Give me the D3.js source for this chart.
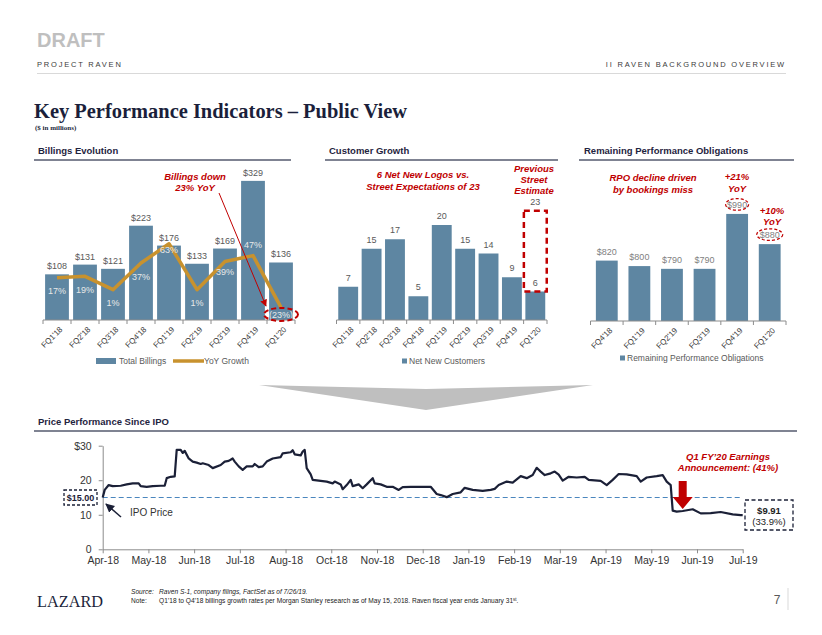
<!DOCTYPE html>
<html><head><meta charset="utf-8">
<script src="https://cdn.jsdelivr.net/npm/d3@7"></script>
<style>
body{margin:0;background:#fff}
svg{display:block}
text{font-family:"Liberation Sans",Arial,sans-serif}
.serif{font-family:"Liberation Serif","Times New Roman",serif}
</style>
</head><body>
<svg id="c" width="822" height="635"></svg>
<script>
// ---------- DATA ----------
const billingQuarters = ["FQ1'18","FQ2'18","FQ3'18","FQ4'18","FQ1'19","FQ2'19","FQ3'19","FQ4'19","FQ1'20"];
const billings = [108,131,121,223,176,133,169,329,136];
const billingsYoY = [17,19,1,37,63,1,39,47,-23];

const customerQuarters = ["FQ1'18","FQ2'18","FQ3'18","FQ4'18","FQ1'19","FQ2'19","FQ3'19","FQ4'19","FQ1'20"];
const netNewCustomers = [7,15,17,5,20,15,14,9,6];
const streetEstimate = 23;

const rpoQuarters = ["FQ4'18","FQ1'19","FQ2'19","FQ3'19","FQ4'19","FQ1'20"];
const rpo = [820,800,790,790,990,880];

const priceTickLabels = ["Apr-18","May-18","Jun-18","Jul-18","Aug-18","Oct-18","Nov-18","Dec-18","Jan-19","Feb-19","Mar-19","Apr-19","May-19","Jun-19","Jul-19"];
const priceYTicks = [0,10,20,30];
// trading-day index since IPO and closing price
const priceDay = [0,1,3,5,9,12,15,18,19,22,25,29,31,32,34,36,37,39,40,41,43,45,47,49,50,53,55,59,61,63,65,66,68,70,72,75,76,78,80,82,85,89,90,94,95,96,99,100,101,102,104,105,109,112,115,116,119,120,122,124,125,128,130,132,135,136,139,142,145,148,150,154,159,164,167,169,172,175,179,181,185,190,194,196,198,202,205,209,212,215,217,219,221,224,226,228,230,233,237,241,243,249,252,255,258,262,267,269,272,277,280,282,284,285,287,290,295,299,304,309,315,319,320];
const price = [15.0,17.2,18.6,18.3,18.4,18.8,19.1,19.1,18.3,18.1,18.3,18.4,18.4,20.6,21.0,21.1,28.8,28.8,27.9,28.5,26.3,25.4,25.1,24.7,24.9,24.4,23.5,24.4,25.4,25.6,26.3,25.4,24.0,23.0,24.0,24.0,24.7,23.8,24.0,25.4,26.3,26.7,27.8,28.1,28.7,27.5,27.2,28.3,28.8,23.5,21.7,20.1,19.8,19.6,19.1,19.6,18.8,17.4,18.6,20.1,18.3,18.8,17.7,18.8,20.6,19.1,18.8,18.1,18.1,17.2,18.0,18.1,18.1,18.1,16.0,15.7,15.1,16.0,16.5,17.8,17.2,16.9,17.2,17.5,18.6,19.6,19.3,21.2,20.6,21.5,23.6,22.5,21.5,22.0,22.5,21.6,19.9,21.0,20.8,21.0,20.1,19.8,18.6,20.1,21.8,21.7,21.2,19.6,20.8,21.2,21.5,19.6,18.6,11.2,10.9,11.1,11.6,10.4,10.5,10.8,10.1,9.9,9.91];
const ipoPrice = 15;
const lastPriceLabel = "$9.91";
const lastChangeLabel = "(33.9%)";
const earningsDay = 290;

// ---------- STYLE ----------
const BAR = "#5E86A2", GOLD = "#C8922E", RED = "#C00000", NAVY = "#1B2037", AX = "#8C8C8C", LBL = "#595959";
const svg = d3.select("#c");

const defs = svg.append("defs");
defs.append("marker").attr("id","arrRed").attr("viewBox","0 0 10 10").attr("refX",9).attr("refY",5)
  .attr("markerWidth",7).attr("markerHeight",7).attr("orient","auto")
  .append("path").attr("d","M0,0L10,5L0,10z").attr("fill",RED);
defs.append("marker").attr("id","arrNavy").attr("viewBox","0 0 10 10").attr("refX",9).attr("refY",5)
  .attr("markerWidth",6).attr("markerHeight",6).attr("orient","auto")
  .append("path").attr("d","M0,0L10,5L0,10z").attr("fill",NAVY);

// ---------- HEADER ----------
svg.append("text").attr("x",37).attr("y",47).attr("font-size",20).attr("font-weight","bold").attr("fill","#BFBFBF").text("DRAFT");
svg.append("text").attr("x",37).attr("y",67).attr("font-size",7.5).attr("letter-spacing",1.8).attr("fill","#3a3a3a").text("PROJECT RAVEN");
svg.append("text").attr("x",786).attr("y",67).attr("font-size",7.5).attr("letter-spacing",1.8).attr("text-anchor","end").attr("fill","#3a3a3a").text("II    RAVEN BACKGROUND OVERVIEW");
svg.append("line").attr("x1",37).attr("x2",786).attr("y1",73.5).attr("y2",73.5).attr("stroke","#D9D9D9").attr("stroke-width",1);
svg.append("text").attr("class","serif").attr("x",34).attr("y",118).attr("font-size",22).attr("font-weight","bold").attr("fill","#1B1F3B")
  .attr("textLength",373).attr("lengthAdjust","spacingAndGlyphs").text("Key Performance Indicators – Public View");
svg.append("text").attr("class","serif").attr("x",35).attr("y",130).attr("font-size",7).attr("font-weight","bold").attr("fill","#1B1F3B").text("($ in millions)");

function sectionHeader(x, x1, x2, y, label){
  svg.append("text").attr("x",x).attr("y",y).attr("font-size",9.5).attr("font-weight","bold").attr("fill","#1F2440").text(label);
  svg.append("line").attr("x1",x1).attr("x2",x2).attr("y1",y+6).attr("y2",y+6).attr("stroke","#555a6e").attr("stroke-width",1.5);
}
sectionHeader(38,34,291,154,"Billings Evolution");
sectionHeader(329,325,558,154,"Customer Growth");
sectionHeader(584,579,794,154,"Remaining Performance Obligations");
sectionHeader(38,34,797,425,"Price Performance Since IPO");

function redNote(x, y, lines, lh){
  const t = svg.append("text").attr("x",x).attr("y",y).attr("text-anchor","middle").attr("font-size",9.5)
    .attr("font-weight","bold").attr("font-style","italic").attr("fill",RED);
  lines.forEach((l,i)=> t.append("tspan").attr("x",x).attr("dy", i===0?0:lh).text(l));
}

function bandAxis(x, baseline, tickLen){
  const g = svg.append("g").attr("transform",`translate(0,${baseline})`);
  const r = x.range();
  const n = x.domain().length;
  g.append("line").attr("x1",r[0]).attr("x2",r[1]).attr("stroke",AX).attr("stroke-width",1);
  for(let i=0;i<=n;i++){
    const xx = r[0] + (r[1]-r[0])*i/n;
    g.append("line").attr("x1",xx).attr("x2",xx).attr("y1",0).attr("y2",tickLen).attr("stroke",AX);
  }
  const ax = g.append("g").call(d3.axisBottom(x).tickSize(0).tickPadding(0));
  ax.select(".domain").remove();
  ax.selectAll("text").attr("font-size",8).attr("fill","#404040").attr("text-anchor","end")
    .attr("y",0).attr("dy","0.35em").attr("transform","translate(4,8) rotate(-45)")
    .style("font-family","'Liberation Sans',Arial,sans-serif");
}

// ---------- BILLINGS ----------
{
  const base = 320;
  const x = d3.scaleBand().domain(billingQuarters).range([43,295]).paddingInner(0.15).paddingOuter(0.075);
  const y = d3.scaleLinear().domain([0,350]).range([base,172]);
  const y2 = d3.scaleLinear().domain([-40,160]).range([base,172]);
  svg.append("g").selectAll("rect").data(billings).join("rect")
    .attr("x",(d,i)=>x(billingQuarters[i])).attr("width",x.bandwidth())
    .attr("y",d=>y(d)).attr("height",d=>base-y(d)).attr("fill",BAR);
  svg.append("g").selectAll("text").data(billings).join("text")
    .attr("x",(d,i)=>x(billingQuarters[i])+x.bandwidth()/2).attr("y",d=>y(d)-5)
    .attr("text-anchor","middle").attr("font-size",9).attr("fill",LBL).text(d=>"$"+d);
  bandAxis(x, base, 4);
  const line = d3.line().x((d,i)=>x(billingQuarters[i])+x.bandwidth()/2).y(d=>y2(d));
  svg.append("path").datum(billingsYoY).attr("d",line).attr("fill","none").attr("stroke",GOLD)
    .attr("stroke-width",3.5).attr("stroke-linejoin","round");
  const dys = [13,13,13,14,6,13,10,-11,7];
  svg.append("g").selectAll("text").data(billingsYoY).join("text")
    .attr("x",(d,i)=>x(billingQuarters[i])+x.bandwidth()/2).attr("y",(d,i)=>y2(d)+dys[i]+3.2)
    .attr("text-anchor","middle").attr("font-size",9).attr("fill","#E8E8E8")
    .text(d=> d<0 ? "("+(-d)+"%)" : d+"%");
  const li = billingsYoY.length-1;
  svg.append("ellipse").attr("cx",x(billingQuarters[li])+x.bandwidth()/2).attr("cy",y2(billingsYoY[li])+7)
    .attr("rx",17).attr("ry",6.5).attr("fill","none").attr("stroke",RED).attr("stroke-width",2).attr("stroke-dasharray","5,3");
  redNote(195,180,["Billings down","23% YoY"],11);
  svg.append("line").attr("x1",219).attr("y1",193).attr("x2",266).attr("y2",306)
    .attr("stroke",RED).attr("stroke-width",1).attr("marker-end","url(#arrRed)");
  // legend
  svg.append("rect").attr("x",96).attr("y",358).attr("width",20).attr("height",6).attr("fill",BAR);
  svg.append("text").attr("x",119).attr("y",364).attr("font-size",8.5).attr("fill",LBL).text("Total Billings");
  svg.append("line").attr("x1",173).attr("x2",204).attr("y1",361).attr("y2",361).attr("stroke",GOLD).attr("stroke-width",3.5);
  svg.append("text").attr("x",204).attr("y",364).attr("font-size",8.5).attr("fill",LBL).text("YoY Growth");
}

// ---------- CUSTOMERS ----------
{
  const base = 320;
  const x = d3.scaleBand().domain(customerQuarters).range([336.5,547]).paddingInner(0.15).paddingOuter(0.075);
  const y = d3.scaleLinear().domain([0,30]).range([base,177.5]);
  svg.append("g").selectAll("rect").data(netNewCustomers).join("rect")
    .attr("x",(d,i)=>x(customerQuarters[i])).attr("width",x.bandwidth())
    .attr("y",d=>y(d)).attr("height",d=>base-y(d)).attr("fill",BAR);
  svg.append("g").selectAll("text").data(netNewCustomers).join("text")
    .attr("x",(d,i)=>x(customerQuarters[i])+x.bandwidth()/2).attr("y",d=>y(d)-6)
    .attr("text-anchor","middle").attr("font-size",9).attr("fill",LBL).text(d=>d);
  bandAxis(x, base, 4);
  const li = customerQuarters.length-1;
  const bx = x(customerQuarters[li]);
  svg.append("rect").attr("x",bx-1.5).attr("width",x.bandwidth()+3)
    .attr("y",y(streetEstimate)).attr("height",y(netNewCustomers[li])-y(streetEstimate))
    .attr("fill","none").attr("stroke",RED).attr("stroke-width",2.5).attr("stroke-dasharray","6,4");
  svg.append("text").attr("x",bx+x.bandwidth()/2).attr("y",y(streetEstimate)-6).attr("text-anchor","middle")
    .attr("font-size",9).attr("fill",LBL).text(streetEstimate);
  redNote(423,178,["6 Net New Logos vs.","Street Expectations of 23"],11.5);
  redNote(534,172,["Previous","Street","Estimate"],11);
  svg.append("rect").attr("x",402).attr("y",358.5).attr("width",5).attr("height",5).attr("fill",BAR);
  svg.append("text").attr("x",409).attr("y",364).attr("font-size",8.5).attr("fill",LBL).text("Net New Customers");
}

// ---------- RPO ----------
{
  const base = 321;
  const x = d3.scaleBand().domain(rpoQuarters).range([590.5,786]).paddingInner(0.33).paddingOuter(0.165);
  const y = d3.scaleLinear().domain([600,1150]).range([base,170]);
  svg.append("g").selectAll("rect").data(rpo).join("rect")
    .attr("x",(d,i)=>x(rpoQuarters[i])).attr("width",x.bandwidth())
    .attr("y",d=>y(d)).attr("height",d=>base-y(d)).attr("fill",BAR);
  svg.append("g").selectAll("text").data(rpo).join("text")
    .attr("x",(d,i)=>x(rpoQuarters[i])+x.bandwidth()/2).attr("y",d=>y(d)-6)
    .attr("text-anchor","middle").attr("font-size",9).attr("fill","#7F7F7F").text(d=>"$"+d);
  bandAxis(x, base, 4);
  [4,5].forEach(i=>{
    svg.append("ellipse").attr("cx",x(rpoQuarters[i])+x.bandwidth()/2).attr("cy",y(rpo[i])-9.5)
      .attr("rx",i===4?11.5:13).attr("ry",5.8).attr("fill","none").attr("stroke",RED)
      .attr("stroke-width",1.2).attr("stroke-dasharray","3,2");
  });
  redNote(653,181,["RPO decline driven","by bookings miss"],12);
  redNote(737,180,["+21%","YoY"],12);
  redNote(772,214,["+10%","YoY"],11);
  svg.append("rect").attr("x",620).attr("y",355.5).attr("width",5).attr("height",5).attr("fill",BAR);
  svg.append("text").attr("x",627).attr("y",361).attr("font-size",8.5).attr("fill",LBL).text("Remaining Performance Obligations");
}

// ---------- CHEVRON ----------
svg.append("path").attr("d","M259,385L426,389L593,385L426,410Z").attr("fill","#BFBFBF");

// ---------- PRICE ----------
{
  const x0 = 102.7, x1 = 742.7, base = 549.3;
  const xt = d3.scalePoint().domain(priceTickLabels).range([x0,x1]);
  const x = d3.scaleLinear().domain([0,320]).range([x0,x1]);
  const y = d3.scaleLinear().domain([0,30]).range([base,445.7]);
  const gx = svg.append("g").attr("transform",`translate(0,${base})`)
    .call(d3.axisBottom(xt).tickSize(4).tickSizeOuter(0).tickPadding(3));
  gx.select(".domain").attr("stroke",AX);
  gx.selectAll(".tick line").attr("stroke",AX);
  gx.selectAll("text").attr("font-size",10.5).attr("fill","#333").style("font-family","'Liberation Sans',Arial,sans-serif");
  const gy = svg.append("g").attr("transform",`translate(${x0},0)`)
    .call(d3.axisLeft(y).tickValues(priceYTicks).tickSize(4).tickSizeOuter(0).tickPadding(7)
      .tickFormat(d=> d===30 ? "$"+d : d));
  gy.select(".domain").attr("stroke",AX);
  gy.selectAll(".tick line").attr("stroke",AX);
  gy.selectAll("text").attr("font-size",10.5).attr("fill","#333").style("font-family","'Liberation Sans',Arial,sans-serif");
  // IPO line
  svg.append("line").attr("x1",x0).attr("x2",x1).attr("y1",y(ipoPrice)).attr("y2",y(ipoPrice))
    .attr("stroke","#4A86BE").attr("stroke-width",1).attr("stroke-dasharray","5,3");
  const line = d3.line().x((d,i)=>x(priceDay[i])).y(d=>y(d));
  svg.append("path").datum(price).attr("d",line).attr("fill","none").attr("stroke",NAVY)
    .attr("stroke-width",2.2).attr("stroke-linejoin","round");
  // $15.00 box
  svg.append("rect").attr("x",64).attr("y",y(ipoPrice)-7.5).attr("width",33).attr("height",15)
    .attr("fill","#fff").attr("stroke",NAVY).attr("stroke-width",1.3).attr("stroke-dasharray","3,2");
  svg.append("text").attr("x",80.5).attr("y",y(ipoPrice)+3.3).attr("text-anchor","middle").attr("font-size",9)
    .attr("font-weight","bold").attr("fill",NAVY).text("$"+ipoPrice.toFixed(2));
  svg.append("line").attr("x1",121).attr("y1",517).attr("x2",106).attr("y2",504)
    .attr("stroke",NAVY).attr("stroke-width",1.5).attr("marker-end","url(#arrNavy)");
  svg.append("text").attr("x",130).attr("y",515.5).attr("font-size",10).attr("fill","#333").text("IPO Price");
  // last price box
  svg.append("rect").attr("x",745).attr("y",500).attr("width",48).attr("height",30)
    .attr("fill","#fff").attr("stroke",NAVY).attr("stroke-width",1.3).attr("stroke-dasharray","4,2.5");
  svg.append("text").attr("x",769).attr("y",513.5).attr("text-anchor","middle").attr("font-size",9.5)
    .attr("font-weight","bold").attr("fill","#222").text(lastPriceLabel);
  svg.append("text").attr("x",769).attr("y",525).attr("text-anchor","middle").attr("font-size",9.5)
    .attr("fill","#222").text(lastChangeLabel);
  // earnings arrow
  const ex = x(earningsDay);
  svg.append("path").attr("d",`M${ex-4},481L${ex+4},481L${ex+4},497L${ex+10},497L${ex},509L${ex-10},497L${ex-4},497Z`)
    .attr("fill",RED);
  redNote(728,459.5,["Q1 FY’20 Earnings","Announcement: (41%)"],11);
}

// ---------- FOOTER ----------
svg.append("text").attr("class","serif").attr("x",37).attr("y",607).attr("font-size",17).attr("fill","#1B1F3B")
  .attr("textLength",66).attr("lengthAdjust","spacingAndGlyphs").text("LAZARD");
{
  const s = svg.append("text").attr("x",131).attr("y",594).attr("font-size",6.6).attr("font-style","italic").attr("fill","#222");
  s.append("tspan").text("Source:");
  s.append("tspan").attr("x",159).text("Raven S-1, company filings, FactSet as of 7/26/19.");
  const n = svg.append("text").attr("x",131).attr("y",603).attr("font-size",6.6).attr("fill","#222");
  n.append("tspan").text("Note:");
  n.append("tspan").attr("x",159).text("Q1’18 to Q4’18 billings growth rates per Morgan Stanley research as of May 15, 2018. Raven fiscal year ends January 31");
  n.append("tspan").attr("font-size",4.5).attr("dy",-2.5).text("st");
  n.append("tspan").attr("dy",2.5).text(".");
}
svg.append("text").attr("x",777).attr("y",604).attr("font-size",12).attr("text-anchor","middle").attr("fill","#595959").text("7");
svg.append("line").attr("x1",788).attr("x2",788).attr("y1",588).attr("y2",610).attr("stroke","#D9D9D9");
</script>
</body></html>
